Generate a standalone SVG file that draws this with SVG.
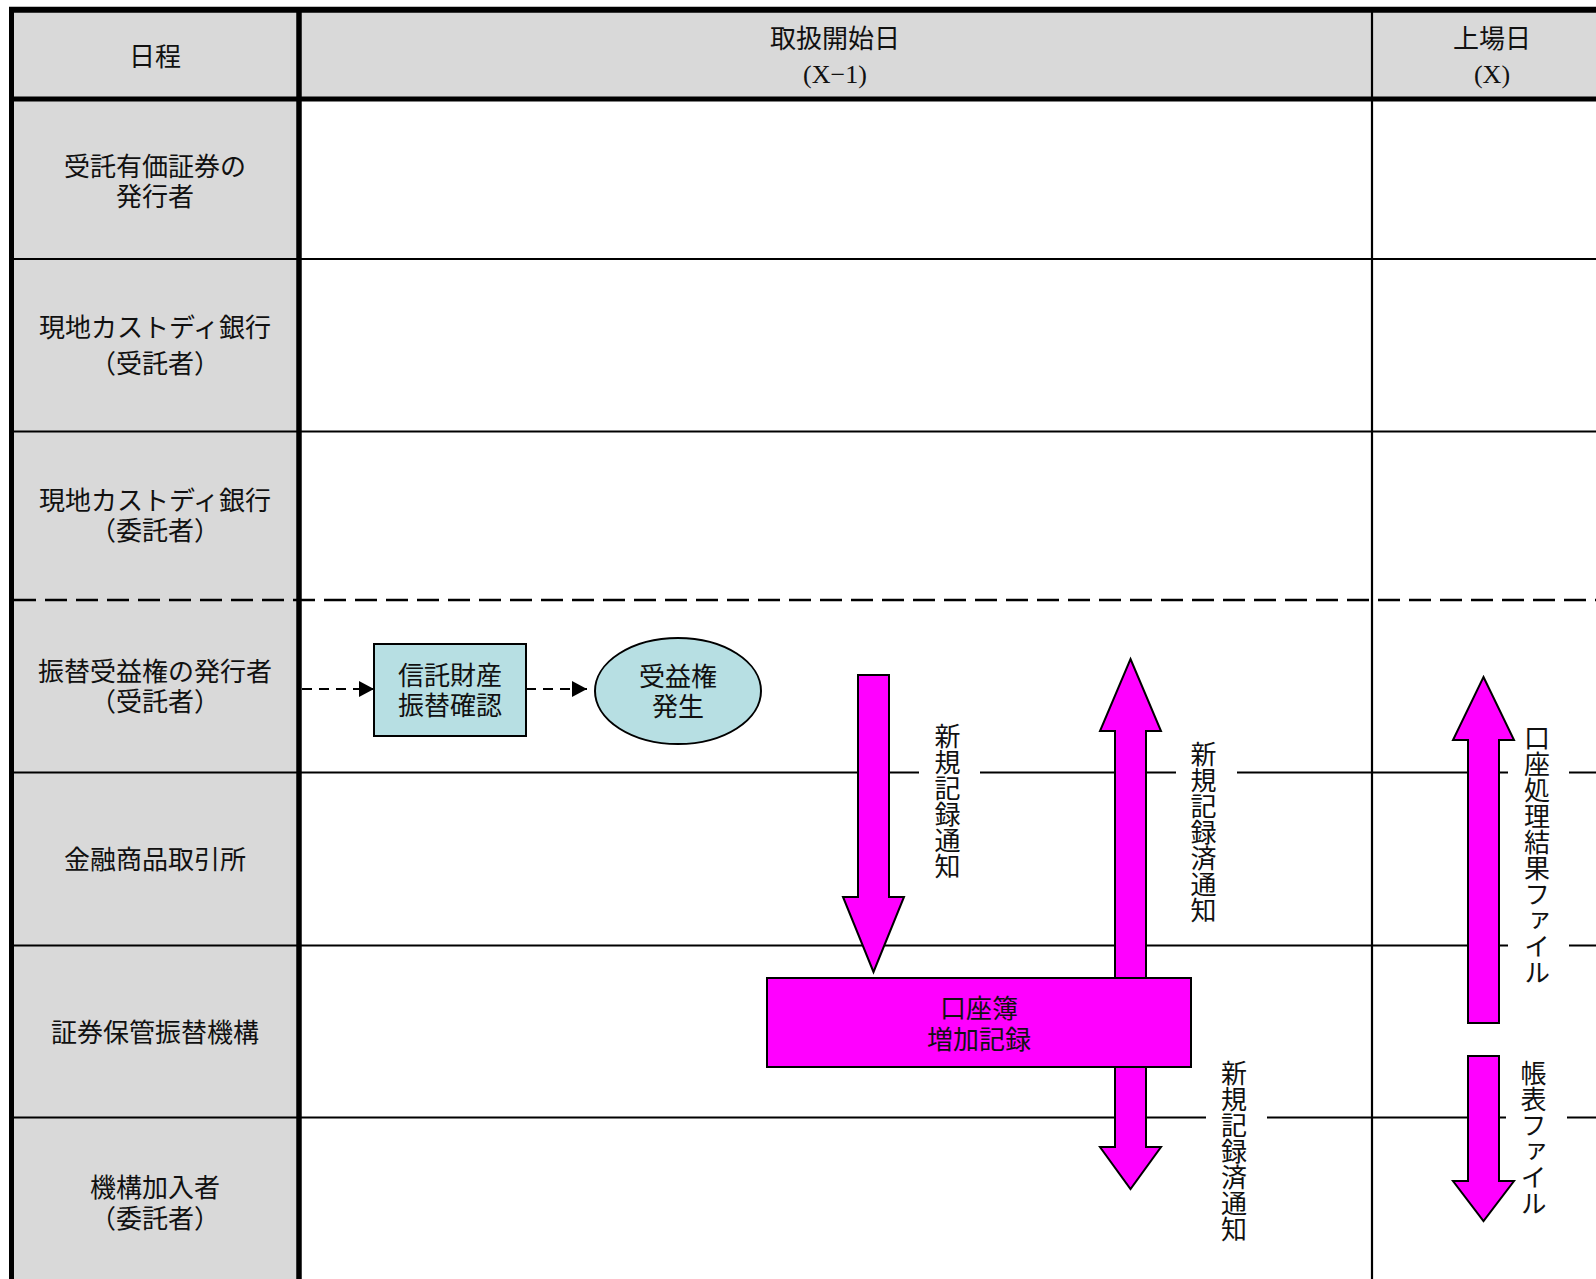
<svg xmlns="http://www.w3.org/2000/svg" width="1596" height="1279" viewBox="0 0 1596 1279">
<style>
text{font-family:"Noto Sans CJK JP","Noto Sans",sans-serif;font-size:26px;fill:#111;}
.c{text-anchor:middle;dominant-baseline:central;}
.v{writing-mode:vertical-rl;font-size:26px;}
.ser{font-family:"Liberation Serif",serif;}
.grid{stroke:#000;stroke-width:2.2;fill:none;}
.thick{stroke:#000;fill:none;}
.band{fill:#d9d9d9;}
.big{fill:#ff00ff;stroke:#000;stroke-width:2;}
.proc{fill:#b7dfe3;stroke:#000;stroke-width:2;}
.dash{stroke:#000;stroke-width:2;stroke-dasharray:10 7;fill:none;}
.gap{fill:#fff;}
</style>
<defs>
<marker id="ah" viewBox="0 0 15 16" refX="15" refY="8" markerWidth="15" markerHeight="16" markerUnits="userSpaceOnUse" orient="auto">
<path d="M0,0 L15,8 L0,16 Z" fill="#000"/>
</marker>
</defs>
<rect width="1596" height="1279" fill="#fff"/>
<g id="table">
<rect class="band" x="11" y="10" width="1585" height="89"/>
<rect class="band" x="11" y="99" width="288" height="1180"/>
<line class="grid" x1="14" y1="259" x2="1596" y2="259"/>
<line class="grid" x1="14" y1="431.5" x2="1596" y2="431.5"/>
<line x1="14" y1="600" x2="1596" y2="600" stroke="#000" stroke-width="2.5" stroke-dasharray="22 9"/>
<line class="grid" x1="14" y1="772.5" x2="1596" y2="772.5"/>
<line class="grid" x1="14" y1="945.5" x2="1596" y2="945.5"/>
<line class="grid" x1="14" y1="1117.5" x2="1596" y2="1117.5"/>
<line class="grid" x1="1372" y1="12" x2="1372" y2="1279"/>
<line class="thick" x1="9" y1="9.7" x2="1596" y2="9.7" stroke-width="6"/>
<line class="thick" x1="9" y1="99" x2="1596" y2="99" stroke-width="5"/>
<line class="thick" x1="11.5" y1="7" x2="11.5" y2="1279" stroke-width="5"/>
<line class="thick" x1="299" y1="7" x2="299" y2="1279" stroke-width="5.5"/>
</g>
<g id="headers">
<text class="c" x="155" y="54">日程</text>
<text class="c" x="835" y="36">取扱開始日</text>
<text class="c ser" x="835" y="74">(X−1)</text>
<text class="c" x="1492" y="36">上場日</text>
<text class="c ser" x="1492" y="74">(X)</text>
</g>
<g id="lane-issuer"><text class="c" x="155" y="164">受託有価証券の<tspan x="155" dy="30">発行者</tspan></text></g>
<g id="lane-custody-trustee"><text class="c" x="155" y="325">現地カストディ銀行<tspan x="155" dy="36">（受託者）</tspan></text></g>
<g id="lane-custody-settlor"><text class="c" x="155" y="498">現地カストディ銀行<tspan x="155" dy="30">（委託者）</tspan></text></g>
<g id="lane-beneficiary-issuer"><text class="c" x="155" y="669">振替受益権の発行者<tspan x="155" dy="30">（受託者）</tspan></text></g>
<g id="lane-exchange"><text class="c" x="155" y="857">金融商品取引所</text></g>
<g id="lane-jasdec"><text class="c" x="155" y="1030">証券保管振替機構</text></g>
<g id="lane-participant"><text class="c" x="155" y="1185">機構加入者<tspan x="155" dy="31">（委託者）</tspan></text></g>
<g id="connectors">
<line class="dash" x1="302" y1="689" x2="374" y2="689" marker-end="url(#ah)"/>
<line class="dash" x1="526" y1="689" x2="587" y2="689" marker-end="url(#ah)"/>
<path class="big" d="M858,675 H889 V897 H904 L873.5,972 L843,897 H858 Z"/>
<path class="big" d="M1130.5,659 L1161,731 H1146 V1147 H1161 L1130.5,1189 L1100,1147 H1115 V731 H1100 Z"/>
<path class="big" d="M1483.5,677 L1514,740 H1499 V1023 H1468 V740 H1453 Z"/>
<path class="big" d="M1468,1056 H1499 V1181 H1514 L1483.5,1221 L1453,1181 H1468 Z"/>
<rect class="gap" x="919" y="768" width="61" height="9"/>
<rect class="gap" x="1176" y="768" width="61" height="9"/>
<rect class="gap" x="1206" y="1113" width="61" height="9"/>
<rect class="gap" x="1508" y="768" width="61" height="9"/>
<rect class="gap" x="1508" y="941" width="61" height="9"/>
<rect class="gap" x="1506" y="1113" width="61" height="9"/>
<text class="v" x="947.5" y="723">新規記録通知</text>
<text class="v" x="1203.5" y="741">新規記録済通知</text>
<text class="v" x="1234" y="1060">新規記録済通知</text>
<text class="v" x="1537" y="725">口座処理結果ファイル</text>
<text class="v" x="1533.5" y="1060">帳表ファイル</text>
</g>
<g id="node-trust-transfer">
<rect class="proc" x="374" y="644" width="152" height="92"/>
<text class="c" x="450" y="673">信託財産<tspan x="450" dy="30">振替確認</tspan></text>
</g>
<g id="node-beneficial-right">
<ellipse class="proc" cx="678" cy="691" rx="83" ry="53"/>
<text class="c" x="678" y="674">受益権<tspan x="678" dy="30">発生</tspan></text>
</g>
<g id="node-ledger">
<rect class="big" x="767" y="978" width="424" height="89"/>
<text class="c" x="979" y="1006">口座簿<tspan x="979" dy="31">増加記録</tspan></text>
</g>
</svg>
